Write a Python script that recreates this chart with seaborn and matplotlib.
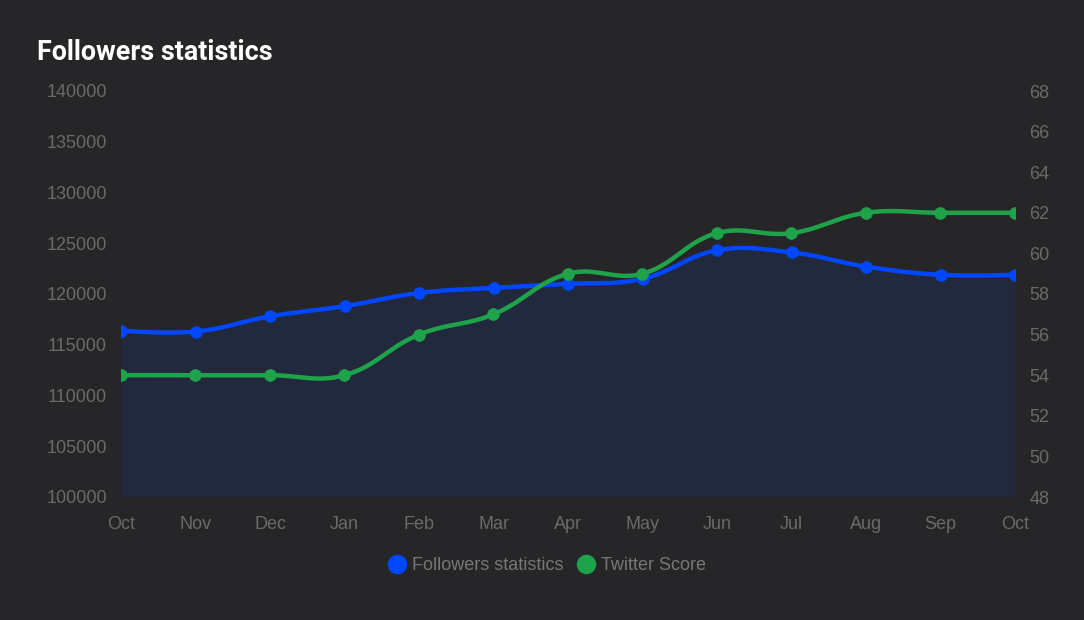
import numpy as np
import matplotlib
matplotlib.use("Agg")
import matplotlib.pyplot as plt
import seaborn as sns
from matplotlib.lines import Line2D

months = ["Oct", "Nov", "Dec", "Jan", "Feb", "Mar", "Apr", "May", "Jun", "Jul", "Aug", "Sep", "Oct"]
followers = [116400, 116300, 117800, 118800, 120100, 120600, 121000, 121500, 124300, 124100, 122700, 121900, 121900]
twitter_score = [54, 54, 54, 54, 56, 57, 59, 59, 61, 61, 62, 62, 62]
left_ticks = [100000, 105000, 110000, 115000, 120000, 125000, 130000, 135000, 140000]
right_ticks = [48, 50, 52, 54, 56, 58, 60, 62, 64, 66, 68]

BG = "#262628"
BLUE = "#0047FF"
GREEN = "#1FA34A"
TICK = "#6a6a6a"

sns.set_theme(style="dark")
plt.rcParams["font.family"] = ["Liberation Sans", "DejaVu Sans"]

fig = plt.figure(figsize=(10.84, 6.2), dpi=100, facecolor=BG)
ax = fig.add_axes([121/1084, 1-497/620, (1015-121)/1084, (497-91)/620])
ax.set_facecolor(BG)
ax2 = ax.twinx()
ax2.set_facecolor("none")

x = np.arange(len(months))
ax.set_xlim(0, len(months) - 1)
ax.set_ylim(100000, 140000)
ax2.set_ylim(48, 68)


def spline(axis, xs, ys, tension=0.4, n=30):
    """Chart.js-style cubic bezier smoothing, computed in display space."""
    fig.canvas.draw()
    pts = axis.transData.transform(np.column_stack([xs, ys]))
    m = len(pts)
    cp_prev = pts.copy()
    cp_next = pts.copy()
    for i in range(1, m - 1):
        p0, p1, p2 = pts[i-1], pts[i], pts[i+1]
        d01 = np.hypot(*(p1 - p0))
        d12 = np.hypot(*(p2 - p1))
        s01 = d01 / (d01 + d12)
        s12 = d12 / (d01 + d12)
        cp_prev[i] = p1 - tension * s01 * (p2 - p0)
        cp_next[i] = p1 + tension * s12 * (p2 - p0)
    out = []
    t = np.linspace(0, 1, n)[:, None]
    for i in range(m - 1):
        a, b, c, d = pts[i], cp_next[i], cp_prev[i+1], pts[i+1]
        seg = (1-t)**3*a + 3*(1-t)**2*t*b + 3*(1-t)*t**2*c + t**3*d
        out.append(seg if i == 0 else seg[1:])
    out = np.vstack(out)
    data = axis.transData.inverted().transform(out)
    return data[:, 0], data[:, 1]

bx, by = spline(ax, x, followers)
gx, gy = spline(ax2, x, twitter_score)

# area fill under followers
ax.fill_between(bx, by, 100000, color=BLUE, alpha=0.10, linewidth=0, zorder=1)
ax.plot(bx, by, color=BLUE, lw=3.2, solid_capstyle="round", zorder=3)
sns.scatterplot(x=x, y=followers, ax=ax, color=BLUE, s=70, edgecolor=BLUE, zorder=4, legend=False)

ax2.plot(gx, gy, color=GREEN, lw=3.2, solid_capstyle="round", zorder=3)
sns.scatterplot(x=x, y=twitter_score, ax=ax2, color=GREEN, s=70, edgecolor=GREEN, zorder=4, legend=False)

ax.set_xticks(x)
ax.set_xticklabels(months)
ax.set_yticks(left_ticks)
ax.set_yticklabels([str(v) for v in left_ticks])
ax2.set_yticks(right_ticks)
ax2.set_yticklabels([str(v) for v in right_ticks])
ax.set_xlim(0, len(months) - 1)
ax.set_ylim(100000, 140000)
ax2.set_ylim(48, 68)

for a in (ax, ax2):
    a.grid(False)
    for s in a.spines.values():
        s.set_visible(False)
    a.tick_params(colors=TICK, labelsize=13, length=0)
ax.tick_params(axis="x", pad=13.5)
ax.tick_params(axis="y", pad=10)
ax2.tick_params(axis="y", pad=10.5)
ax.set_xlabel("")
ax.set_ylabel("")
ax2.set_ylabel("")

fig.text(37/1084, 1-52/620, "Followers statistics", color="white", fontsize=19.4,
         fontweight="bold", family=["Roboto", "DejaVu Sans"], va="center", ha="left")

handles = [Line2D([], [], marker="o", ls="none", color=BLUE, markersize=13),
           Line2D([], [], marker="o", ls="none", color=GREEN, markersize=13)]
fig.legend(handles, ["Followers statistics", "Twitter Score"], loc="center",
           bbox_to_anchor=(547/1084, 1-566/620), ncol=2, frameon=False,
           labelcolor="#777777", fontsize=13, handlelength=1.0, handletextpad=0.35,
           columnspacing=0.75)

fig.savefig("out.png", dpi=100, facecolor=BG)
